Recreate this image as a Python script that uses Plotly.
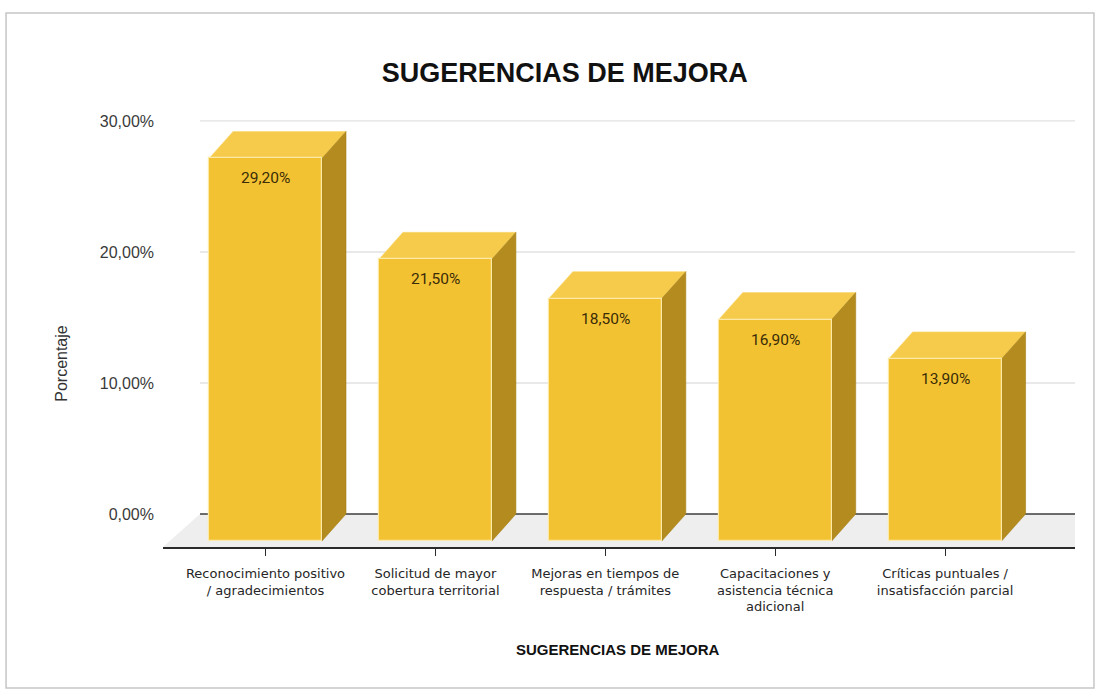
import plotly.graph_objects as go

# Chart data
categorias = [
    "Reconocimiento positivo<br>/ agradecimientos",
    "Solicitud de mayor<br>cobertura territorial",
    "Mejoras en tiempos de<br>respuesta / trámites",
    "Capacitaciones y<br>asistencia técnica<br>adicional",
    "Críticas puntuales /<br>insatisfacción parcial",
]
porcentajes = [29.20, 21.50, 18.50, 16.90, 13.90]
ticks_y = [0, 10, 20, 30]
ticks_y_texto = ["0,00%", "10,00%", "20,00%", "30,00%"]

# 3D look: depth offset of the back plane (x in category units, y in % units)
DX = 0.1413
DY = 2.06
ANCHO = 0.665

FRENTE = "#F3C232"
TECHO = "#F6CB4C"
LADO = "#B38B1E"

x_pos = list(range(len(porcentajes)))
y_rango = [-0.458, 33.66]
x_rango = [-0.6033, 4.7646]
x_fondo_ini = -0.3855

fig = go.Figure()

fig.add_trace(go.Bar(
    x=x_pos,
    y=porcentajes,
    width=ANCHO,
    marker=dict(color=FRENTE, line=dict(color="#FCE9A8", width=1.2)),
    hoverinfo="skip",
    showlegend=False,
))

# Invisible trace on the secondary axis that carries the back-wall tick labels
fig.add_trace(go.Scatter(x=[x_pos[0]], y=[0], yaxis="y2", mode="markers",
                         marker=dict(opacity=0), hoverinfo="skip", showlegend=False))

shapes = []

# Floor
shapes.append(dict(
    type="path", xref="x", yref="y", layer="below",
    path=(f"M {x_fondo_ini},{DY} L {x_rango[1]},{DY} "
          f"L {x_rango[1]},{y_rango[0]} L {x_rango[0]},{y_rango[0]} Z"),
    fillcolor="#EEEEEE", line=dict(width=0),
))

# Back-wall gridlines
for g in ticks_y:
    shapes.append(dict(
        type="line", xref="x", yref="y", layer="below",
        x0=x_fondo_ini, x1=x_rango[1], y0=g + DY, y1=g + DY,
        line=dict(color="#3C3C3C" if g == 0 else "#E2E2E2", width=1.6 if g == 0 else 1.3),
    ))

# Top and side faces of every bar
for x, v in zip(x_pos, porcentajes):
    izq, der = x - ANCHO / 2, x + ANCHO / 2
    shapes.append(dict(
        type="path", xref="x", yref="y", layer="below",
        path=(f"M {izq},{v} L {der},{v} L {der + DX},{v + DY} "
              f"L {izq + DX},{v + DY} Z"),
        fillcolor=TECHO, line=dict(color="#F8D870", width=0.6),
    ))
    shapes.append(dict(
        type="path", xref="x", yref="y", layer="below",
        path=(f"M {der},0 L {der + DX},{DY} L {der + DX},{v + DY} "
              f"L {der},{v} Z"),
        fillcolor=LADO, line=dict(color="#A8821B", width=0.6),
    ))

# Outer frame of the chart
shapes.append(dict(
    type="rect", xref="paper", yref="paper", layer="below",
    x0=-0.1721, x1=1.0208, y0=-0.3154, y1=1.1946,
    line=dict(color="#C6C6C6", width=1.5), fillcolor="rgba(0,0,0,0)",
))

annotations = []
for x, v in zip(x_pos, porcentajes):
    annotations.append(dict(
        x=x, y=v, xref="x", yref="y", yanchor="top", yshift=-9,
        text=f"{v:.2f}%".replace(".", ","), showarrow=False,
        font=dict(family="Roboto, Arial, sans-serif", size=15.5, color="#3A2C08"),
    ))

annotations.append(dict(
    x=0.4989, y=-0.2304, xref="paper", yref="paper", yanchor="middle",
    text="<b>SUGERENCIAS DE MEJORA</b>", showarrow=False,
    font=dict(family="Liberation Sans Narrow, Arial Narrow, Liberation Sans, sans-serif",
              size=15, color="#111111"),
))
annotations.append(dict(
    x=-0.1107, y=0.41, xref="paper", yref="paper", textangle=-90,
    xanchor="center", yanchor="middle",
    text="Porcentaje", showarrow=False,
    font=dict(family="Liberation Sans, Arial, sans-serif", size=16, color="#333333"),
))

fig.update_layout(
    width=1101, height=698,
    margin=dict(l=163, r=26, t=100, b=151),
    paper_bgcolor="white", plot_bgcolor="white",
    bargap=0,
    title=dict(
        text="<b>SUGERENCIAS DE MEJORA</b>",
        x=0.513, xref="container", xanchor="center",
        y=1 - 73 / 698, yref="container", yanchor="middle",
        font=dict(family="Liberation Sans Narrow, Arial Narrow, Liberation Sans, sans-serif",
                  size=27, color="#111111"),
    ),
    xaxis=dict(
        range=x_rango, tickvals=x_pos, ticktext=categorias,
        showgrid=False, zeroline=False,
        showline=True, linecolor="#2A2A2A", linewidth=2,
        ticks="outside", ticklen=7, tickwidth=1.3, tickcolor="#2A2A2A",
        ticklabelstandoff=6,
        tickfont=dict(family="DejaVu Sans, sans-serif", size=13, color="#262626"),
        fixedrange=True,
    ),
    yaxis=dict(
        range=y_rango, showticklabels=False, showgrid=False,
        zeroline=False, showline=False, fixedrange=True,
    ),
    yaxis2=dict(
        range=[y_rango[0] - DY, y_rango[1] - DY], overlaying="y", side="left",
        tickvals=ticks_y, ticktext=ticks_y_texto,
        showgrid=False, zeroline=False, showline=False,
        ticklabelstandoff=8,
        tickfont=dict(family="Liberation Sans, Arial, sans-serif", size=16, color="#3A3A3A"),
        fixedrange=True,
    ),
    shapes=shapes,
    annotations=annotations,
)

fig.write_html("out.html")
